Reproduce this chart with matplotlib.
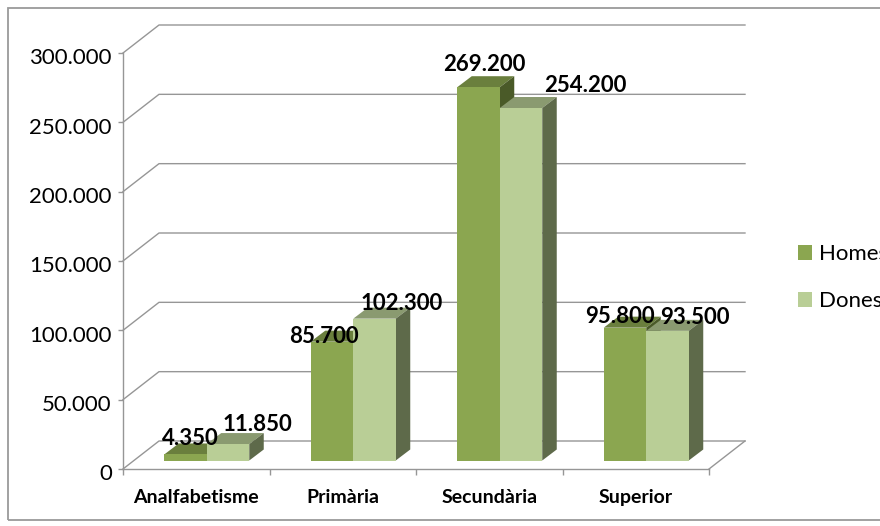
import matplotlib
matplotlib.use("Agg")
import matplotlib.pyplot as plt
from matplotlib.patches import Polygon, Rectangle
from matplotlib.transforms import ScaledTranslation

plt.rcParams['font.family'] = ['Lato', 'DejaVu Sans']

categories = ['Analfabetisme', 'Primària', 'Secundària', 'Superior']
homes = [4350, 85700, 269200, 95800]
dones = [11850, 102300, 254200, 93500]
y_ticks = [0, 50000, 100000, 150000, 200000, 250000, 300000]

# layout (pixels on the 880x526 canvas)
W, H = 880, 526
L, R, T, B = 123, 709, 53, 469
UX = 4 / (R - L)          # data units per pixel
UY = 300000 / (B - T)
WALL_DX, WALL_DY = 36 * UX, 28 * UY
BAR_DX, BAR_DY = 14.5 * UX, 11 * UY
SHIFT_X, FLOOR = 10.5 * UX, 8.5 * UY
BAR_W = 42.5 * UX
GRID = '#969696'
C_H = dict(front='#8BA650', top='#6A7F3D', side='#4A5A28')
C_D = dict(front='#B9CE96', top='#8A9A70', side='#5E6A4A')
# label displacement from the bar's front-top centre, in pixels
H_OFF = [(5, 16), (-8, 5), (6, 23), (-5, 11)]
D_OFF = [(29, 19.6), (27, 15), (64, 23), (27, 13)]

fig = plt.figure(figsize=(W / 100, H / 100), dpi=100, facecolor='white')
ax = fig.add_axes([L / W, 1 - B / H, (R - L) / W, (B - T) / H])
ax.set_xlim(0, 4)
ax.set_ylim(0, 300000)
ax.patch.set_visible(False)

fig.add_artist(Rectangle((8 / W, 1 - 520 / H), 900 / W, 512 / H, transform=fig.transFigure,
                         fill=False, ec='#9a9a9a', lw=1.3))

# walls and floor
for v in y_ticks:
    ax.plot([0, WALL_DX, 4 + WALL_DX], [v, v + WALL_DY, v + WALL_DY],
            color=GRID, lw=1, clip_on=False, zorder=1)
ax.plot([4, 4 + WALL_DX], [0, WALL_DY], color=GRID, lw=1, clip_on=False, zorder=1)


def bar3d(x0, value, colors, z):
    x1 = x0 + BAR_W
    top = FLOOR + value
    ax.add_patch(Polygon([(x0, top), (x1, top), (x1 + BAR_DX, top + BAR_DY), (x0 + BAR_DX, top + BAR_DY)],
                         closed=True, fc=colors['top'], ec='none', clip_on=False, zorder=z))
    ax.add_patch(Polygon([(x1, FLOOR), (x1 + BAR_DX, FLOOR + BAR_DY), (x1 + BAR_DX, top + BAR_DY), (x1, top)],
                         closed=True, fc=colors['side'], ec='none', clip_on=False, zorder=z))
    ax.bar(x0, value, width=BAR_W, bottom=FLOOR, align='edge', color=colors['front'],
           linewidth=0, zorder=z + 0.1, clip_on=False)


for i in range(len(categories)):
    c = i + 0.5 + SHIFT_X
    bar3d(c - BAR_W, homes[i], C_H, 2 + i)
    bar3d(c, dones[i], C_D, 2.2 + i)
    for value, off, xc in ((homes[i], H_OFF[i], c - BAR_W / 2), (dones[i], D_OFF[i], c + BAR_W / 2)):
        ax.annotate(f'{value:,}'.replace(',', '.'), (xc, FLOOR + value),
                    xytext=(off[0] * 0.72, off[1] * 0.72), textcoords='offset points',
                    ha='center', va='center', fontsize=16, fontweight='bold', color='black',
                    zorder=10, annotation_clip=False)

# axes
for s in ('top', 'right'):
    ax.spines[s].set_visible(False)
for s in ('left', 'bottom'):
    ax.spines[s].set_color(GRID)
    ax.spines[s].set_linewidth(1)
    ax.spines[s].set_zorder(1)
ax.set_yticks(y_ticks)
ax.set_yticklabels([f'{v:,}'.replace(',', '.') for v in y_ticks], fontsize=16, color='black')
ax.tick_params(axis='y', length=3.6, width=1, color=GRID, pad=4.5)
shift_down = ScaledTranslation(0, -3.5 / 100, fig.dpi_scale_trans)
for lab in ax.get_yticklabels():
    lab.set_transform(lab.get_transform() + shift_down)
ax.set_xticks([0.5, 1.5, 2.5, 3.5])
ax.set_xticklabels(categories, fontsize=14, fontweight='bold', color='black')
ax.set_xticks([0, 1, 2, 3, 4], minor=True)
ax.tick_params(axis='x', which='major', length=0, pad=14.5)
ax.tick_params(axis='x', which='minor', length=4, width=1, color=GRID)

# legend
handles = [Rectangle((0, 0), 1, 1, fc=C_H['front']), Rectangle((0, 0), 1, 1, fc=C_D['front'])]
fig.legend(handles, ['Homes', 'Dones'], loc='upper left', bbox_to_anchor=(798 / W, 1 - 244.5 / H),
           frameon=False, fontsize=16, handlelength=0.64, handleheight=0.64, handletextpad=0.32,
           labelspacing=1.2, borderpad=0, borderaxespad=0)

fig.savefig('out.png', dpi=100)
